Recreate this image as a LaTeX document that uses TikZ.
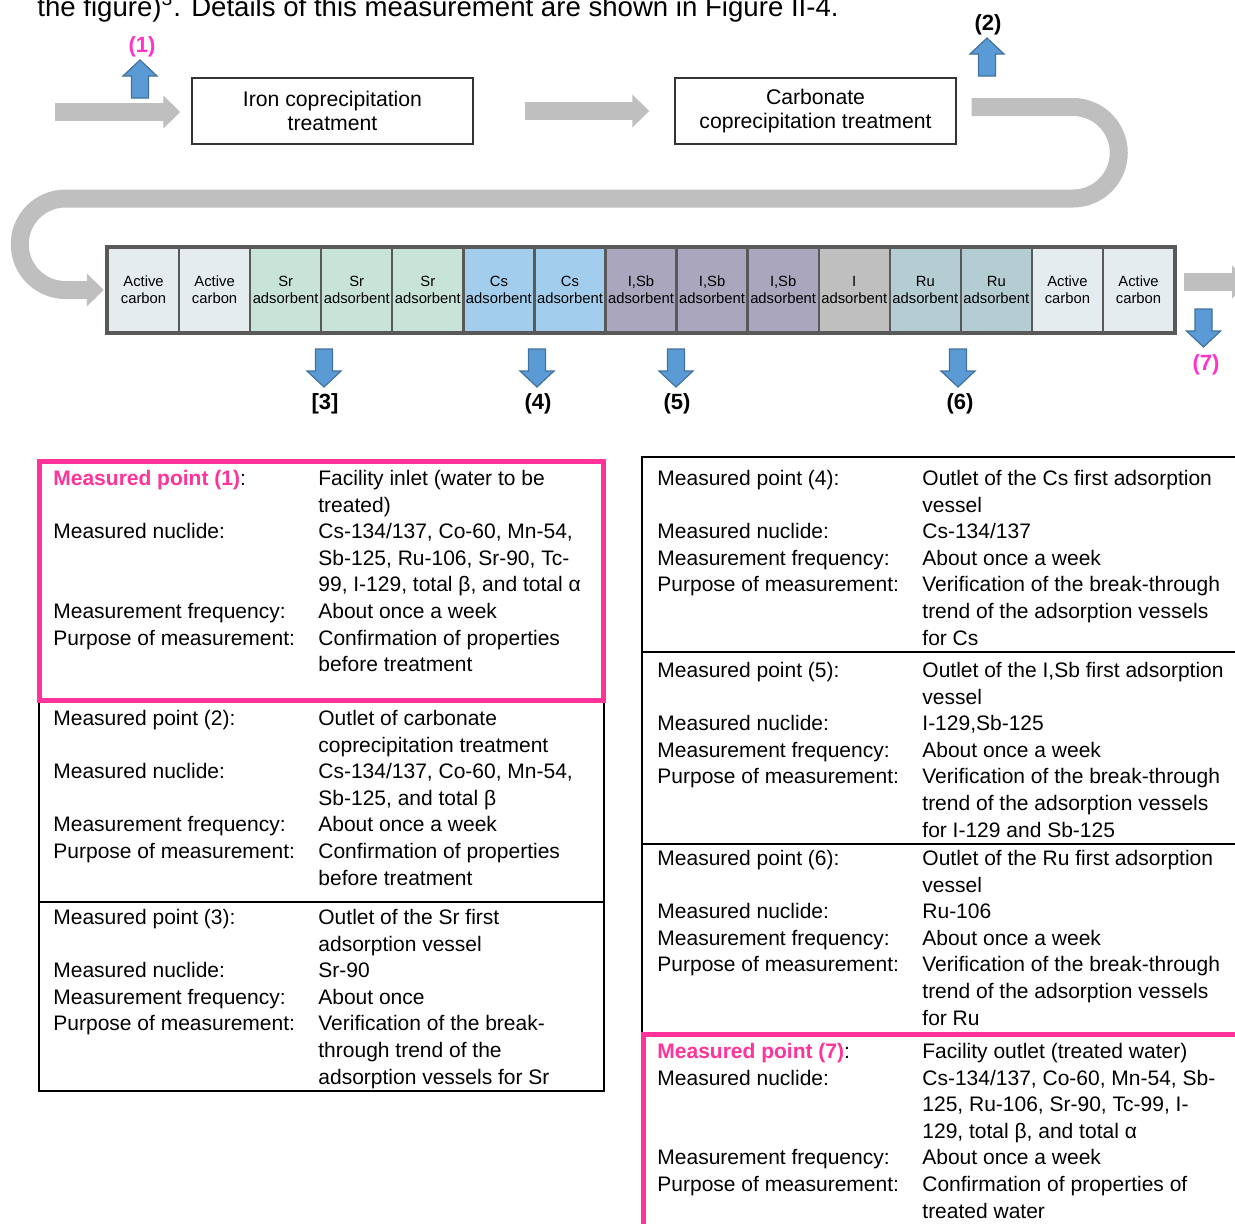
\documentclass[tikz,border=0pt]{standalone}
\usepackage{fontspec}
\setmainfont{Liberation Sans}
\usetikzlibrary{arrows.meta,calc}
\definecolor{Flow}{HTML}{BFBFBF}
\definecolor{Blue}{HTML}{5B9BD5}
\definecolor{BlueEdge}{HTML}{41719C}
\definecolor{Magenta}{HTML}{FF33CC}
\definecolor{Rose}{HTML}{FF3399}
\definecolor{Edge}{HTML}{595959}
\definecolor{Carbon}{HTML}{E4ECEF}
\definecolor{SrAds}{HTML}{C8E4D9}
\definecolor{CsAds}{HTML}{A3CDEC}
\definecolor{ISbAds}{HTML}{A9A6BE}
\definecolor{IAds}{HTML}{BFBFBF}
\definecolor{RuAds}{HTML}{B4CDD3}
\newcommand{\blueup}[2]{%
  \draw[fill=Blue,draw=BlueEdge,line width=0.6pt] (#1,#2) -- ++(17,16) -- ++(-8.5,0) -- ++(0,22) -- ++(-17,0) -- ++(0,-22) -- ++(-8.5,0) -- cycle;
}
\newcommand{\bluedown}[2]{%
  \draw[fill=Blue,draw=BlueEdge,line width=0.6pt] (#1,#2) -- ++(17,-16) -- ++(-8.5,0) -- ++(0,-22) -- ++(-17,0) -- ++(0,22) -- ++(-8.5,0) -- cycle;
}
\newcommand{\pointtab}[1]{\begin{tabular}[t]{@{}p{132.5pt}@{}l@{}}#1\end{tabular}}

\begin{document}
\begin{tikzpicture}[x=0.5pt,y=-0.5pt,
  flow/.style={draw=Flow,line width=9pt,-{Triangle[length=8.5pt,width=16pt]}},
  stage/.style={draw=black!80,line width=0.7pt,minimum width=140.5pt,minimum height=33pt,align=center,font=\fontsize{10.6}{12}\selectfont},
  vessel/.style={draw=Edge,line width=1.2pt,minimum width=35.535pt,minimum height=42pt,inner sep=0pt,align=center,font=\fontsize{7.4}{8.5}\selectfont},
  ptlabel/.style={font=\fontsize{11}{13}\selectfont\bfseries},
  pointtext/.style={anchor=base west,inner sep=0pt,font=\fontsize{10.5}{13.3}\selectfont}]
        \useasboundingbox (0,0) rectangle (1235,1223);
        \node[anchor=base west,inner sep=0pt,font=\fontsize{13.8}{16}\selectfont] (intro) at (37,16) {the figure)\textsuperscript{3}. Details of this measurement are shown in Figure II-4.};
        \node[stage] (iron) at (332.5,111) {Iron coprecipitation\\treatment};
        \node[stage] (carb) at (815.5,111) {Carbonate\\coprecipitation treatment};
        \foreach [count=\i] \a/\b/\c in {Active/carbon/Carbon,Active/carbon/Carbon,Sr/adsorbent/SrAds,Sr/adsorbent/SrAds,Sr/adsorbent/SrAds,Cs/adsorbent/CsAds,Cs/adsorbent/CsAds,I{,}Sb/adsorbent/ISbAds,I{,}Sb/adsorbent/ISbAds,I{,}Sb/adsorbent/ISbAds,I/adsorbent/IAds,Ru/adsorbent/RuAds,Ru/adsorbent/RuAds,Active/carbon/Carbon,Active/carbon/Carbon}
          \node[vessel,fill=\c] (v\i) at ({108+71.07*(\i-0.5)},290) {\a\\\b};
        \draw[Edge,line width=2pt] (v1.north west) rectangle (v15.south east);
        \coordinate (inlet) at (55,112);
        \coordinate (outlet) at (1249,282);
        \draw[flow,shorten >=5.5pt] (inlet) -- (inlet -| iron.west);
        \draw[flow,shorten <=25.5pt,shorten >=12.5pt] (iron.east) -- (carb.west);
        \draw[flow,shorten >=1.5pt] ([xshift=7.5pt,yshift=2pt]carb.east) -- (1073,107) arc[start angle=-90,end angle=90,radius=45.75] -- (65.5,198.5) arc[start angle=270,end angle=90,radius=45.75] -- (v1.west);
        \draw[flow,shorten <=4.5pt] ([yshift=4pt]v15.east) -- (outlet);
        \blueup{140}{60}
        \blueup{987}{38}
        \bluedown{324}{387}
        \bluedown{537}{387}
        \bluedown{676}{387}
        \bluedown{958}{387}
        \bluedown{1203.5}{347}
        \node[ptlabel,text=Magenta] (lb1) at (142,47) {(1)};
        \node[ptlabel] (lb2) at (988,25) {(2)};
        \node[ptlabel] (lb3) at (325,404) {[3]};
        \node[ptlabel] (lb4) at (538,404) {(4)};
        \node[ptlabel] (lb5) at (677,404) {(5)};
        \node[ptlabel] (lb6) at (960,404) {(6)};
        \node[ptlabel,text=Magenta] (lb7) at (1206,365) {(7)};
        \draw[line width=1pt] (39,700.5) rectangle (603.5,1091);
        \draw[line width=1pt] (39,902) -- (603.5,902);
        \draw[Rose,line width=2.5pt] (39.5,461) rectangle (603.5,700.5);
        \draw[line width=1pt] (642,1034) -- (642,457) -- (1245,457);
        \draw[line width=1pt] (642,652) -- (1245,652) (642,844) -- (1245,844);
        \draw[Rose,line width=2.5pt] (1245,1034) -- (643,1034) -- (643,1240);
        \node[pointtext] (mp1) at (53,485.5) {\pointtab{%
          \textcolor{Rose}{\textbf{Measured point (1)}}: & Facility inlet (water to be\\
           & treated)\\
          Measured nuclide: & Cs-134/137, Co-60, Mn-54,\\
           & Sb-125, Ru-106, Sr-90, Tc-\\
           & 99, I-129, total β, and total α\\
          Measurement frequency: & About once a week\\
          Purpose of measurement: & Confirmation of properties\\
           & before treatment}};
        \node[pointtext] (mp2) at (53,725.5) {\pointtab{%
          Measured point (2): & Outlet of carbonate\\
           & coprecipitation treatment\\
          Measured nuclide: & Cs-134/137, Co-60, Mn-54,\\
           & Sb-125, and total β\\
          Measurement frequency: & About once a week\\
          Purpose of measurement: & Confirmation of properties\\
           & before treatment}};
        \node[pointtext] (mp3) at (53,924.5) {\pointtab{%
          Measured point (3): & Outlet of the Sr first\\
           & adsorption vessel\\
          Measured nuclide: & Sr-90\\
          Measurement frequency: & About once\\
          Purpose of measurement: & Verification of the break-\\
           & through trend of the\\
           & adsorption vessels for Sr}};
        \node[pointtext] (mp4) at (657,485.5) {\pointtab{%
          Measured point (4): & Outlet of the Cs first adsorption\\
           & vessel\\
          Measured nuclide: & Cs-134/137\\
          Measurement frequency: & About once a week\\
          Purpose of measurement: & Verification of the break-through\\
           & trend of the adsorption vessels\\
           & for Cs}};
        \node[pointtext] (mp5) at (657,677.5) {\pointtab{%
          Measured point (5): & Outlet of the I,Sb first adsorption\\
           & vessel\\
          Measured nuclide: & I-129,Sb-125\\
          Measurement frequency: & About once a week\\
          Purpose of measurement: & Verification of the break-through\\
           & trend of the adsorption vessels\\
           & for I-129 and Sb-125}};
        \node[pointtext] (mp6) at (657,865.5) {\pointtab{%
          Measured point (6): & Outlet of the Ru first adsorption\\
           & vessel\\
          Measured nuclide: & Ru-106\\
          Measurement frequency: & About once a week\\
          Purpose of measurement: & Verification of the break-through\\
           & trend of the adsorption vessels\\
           & for Ru}};
        \node[pointtext] (mp7) at (657,1058.5) {\pointtab{%
          \textcolor{Rose}{\textbf{Measured point (7)}}: & Facility outlet (treated water)\\
          Measured nuclide: & Cs-134/137, Co-60, Mn-54, Sb-\\
           & 125, Ru-106, Sr-90, Tc-99, I-\\
           & 129, total β, and total α\\
          Measurement frequency: & About once a week\\
          Purpose of measurement: & Confirmation of properties of\\
           & treated water}};
      \end{tikzpicture}
\end{document}
